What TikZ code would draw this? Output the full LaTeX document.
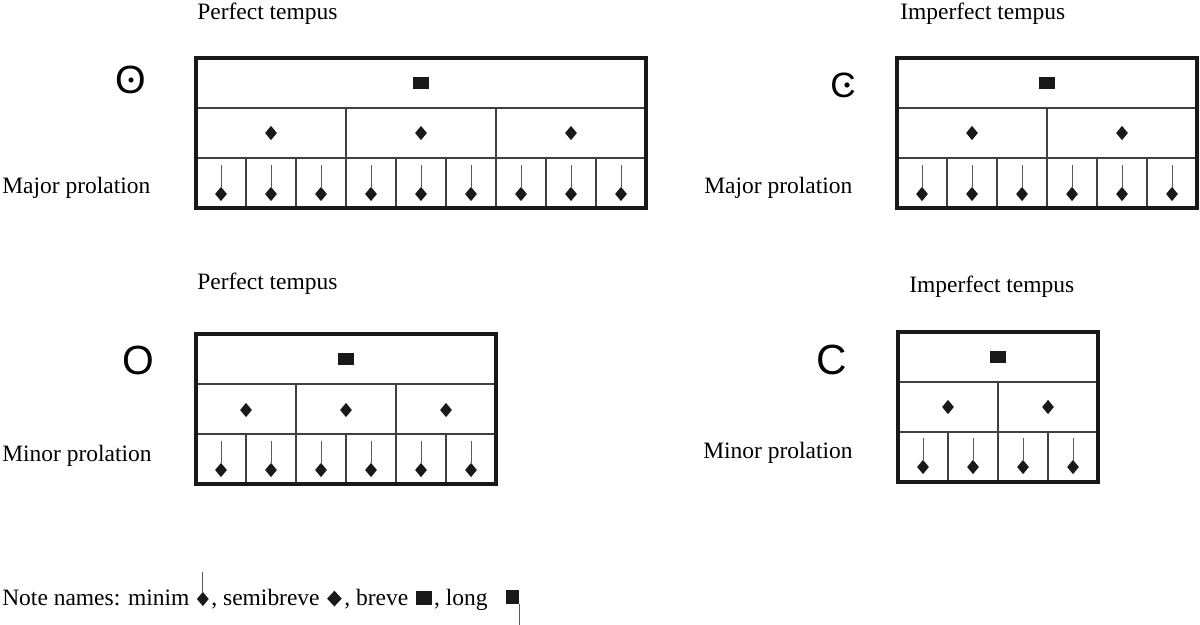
\documentclass[tikz,border=0pt]{standalone}
\usepackage{fontspec}
\setmainfont{Liberation Serif}
\newfontfamily\signfont{Liberation Sans}
\usetikzlibrary{shapes.geometric}

\tikzset{
  lbl/.style={anchor=base west,inner sep=0pt,font=\fontsize{16.7}{20}\selectfont},
  sign/.style={inner sep=0pt,font=\signfont\fontsize{#1}{#1}\selectfont},
  frame/.style={line width=2.2pt,black!90},
  rule/.style={line width=1pt,black!75},
  stem/.style={line width=0.6pt,black!65},
  semibreve/.style={diamond,fill=black!90,inner sep=0pt,minimum width=0.3cm,minimum height=0.36cm},
  breve/.style={rectangle,fill=black!90,inner sep=0pt,minimum width=0.4cm,minimum height=0.31cm},
}

\begin{document}
\begin{tikzpicture}[x=0.025cm,y=-0.025cm]
  \useasboundingbox (0,0) rectangle (1200,624);

  % perfect tempus, major prolation
  \node[lbl] (ta) at (197,20) {Perfect tempus};
  \node[lbl] (pa) at (2,193) {Major prolation};
  \node[sign=28] (sa) at (131,80) {O};
  \fill (sa.center) circle (2.6);
  \draw[rule] (196,108) -- (646,108) (196,158) -- (646,158);
  \draw[rule] (346,108) -- (346,158) (496,108) -- (496,158);
  \foreach \x in {246,296,...,596} \draw[rule] (\x,158) -- (\x,208);
  \draw[frame] (196,58) rectangle (646,208);
  \node[breve] (a-br) at (421,83) {};
  \foreach \x [count=\i] in {271,421,571} \node[semibreve] (a-sb\i) at (\x,133) {};
  \foreach \x [count=\i] in {221,271,...,621} {
    \node[semibreve] (a-mi\i) at (\x,194) {};
    \draw[stem] (a-mi\i.north) -- ++(0,-22);
  }

  % imperfect tempus, major prolation
  \node[lbl] (tb) at (900,20) {Imperfect tempus};
  \node[lbl] (pb) at (704,193) {Major prolation};
  \node[sign=25] (sb) at (843,85) {C};
  \fill (847,85) circle (2.6);
  \draw[rule] (897,108) -- (1197,108) (897,158) -- (1197,158);
  \draw[rule] (1047,108) -- (1047,158);
  \foreach \x in {947,997,...,1147} \draw[rule] (\x,158) -- (\x,208);
  \draw[frame] (897,58) rectangle (1197,208);
  \node[breve] (b-br) at (1047,83) {};
  \foreach \x [count=\i] in {972,1122} \node[semibreve] (b-sb\i) at (\x,133) {};
  \foreach \x [count=\i] in {922,972,...,1172} {
    \node[semibreve] (b-mi\i) at (\x,194) {};
    \draw[stem] (b-mi\i.north) -- ++(0,-22);
  }

  % perfect tempus, minor prolation
  \node[lbl] (tc) at (197,289) {Perfect tempus};
  \node[lbl] (pc) at (2,461) {Minor prolation};
  \node[sign=29] (sc) at (138,360) {O};
  \draw[rule] (196,384) -- (496,384) (196,434) -- (496,434);
  \draw[rule] (296,384) -- (296,434) (396,384) -- (396,434);
  \foreach \x in {246,296,...,446} \draw[rule] (\x,434) -- (\x,484);
  \draw[frame] (196,334) rectangle (496,484);
  \node[breve] (c-br) at (346,359) {};
  \foreach \x [count=\i] in {246,346,446} \node[semibreve] (c-sb\i) at (\x,410) {};
  \foreach \x [count=\i] in {221,271,...,471} {
    \node[semibreve] (c-mi\i) at (\x,470) {};
    \draw[stem] (c-mi\i.north) -- ++(0,-22);
  }

  % imperfect tempus, minor prolation
  \node[lbl] (td) at (909,292) {Imperfect tempus};
  \node[lbl] (pd) at (703,458) {Minor prolation};
  \node[sign=30] (sd) at (832,360) {C};
  \draw[rule] (898,382) -- (1098,382) (898,432) -- (1098,432);
  \draw[rule] (998,382) -- (998,432);
  \foreach \x in {948,998,1048} \draw[rule] (\x,432) -- (\x,482);
  \draw[frame] (898,332) rectangle (1098,482);
  \node[breve] (d-br) at (998,357) {};
  \foreach \x [count=\i] in {948,1048} \node[semibreve] (d-sb\i) at (\x,407) {};
  \foreach \x [count=\i] in {923,973,...,1073} {
    \node[semibreve] (d-mi\i) at (\x,467) {};
    \draw[stem] (d-mi\i.north) -- ++(0,-22);
  }

  % note names
  \node[lbl] (names) at (2,605) {Note names: minim};
  \node[semibreve,anchor=west] (l-mi) at ([xshift=0.17cm,yshift=0.15cm]names.base east) {};
  \draw[stem] (l-mi.north) -- ++(0,-20);
  \node[lbl] (n-sb) at ([xshift=0.05cm]l-mi.east |- names.base) {, semibreve};
  \node[semibreve,anchor=west,minimum width=0.37cm,minimum height=0.4cm] (l-sb) at ([xshift=0.17cm,yshift=0.16cm]n-sb.base east) {};
  \node[lbl] (n-br) at ([xshift=0.05cm]l-sb.east |- names.base) {, breve};
  \node[breve,anchor=west,minimum height=0.35cm] (l-br) at ([xshift=0.17cm,yshift=0.17cm]n-br.base east) {};
  \node[lbl] (n-lo) at ([xshift=0.05cm]l-br.east |- names.base) {, long};
  \node[breve,anchor=west,minimum width=0.32cm,minimum height=0.33cm] (l-lo) at ([xshift=0.45cm,yshift=0.2cm]n-lo.base east) {};
  \draw[stem] (l-lo.south east) -- ++(0,30);
\end{tikzpicture}
\end{document}
